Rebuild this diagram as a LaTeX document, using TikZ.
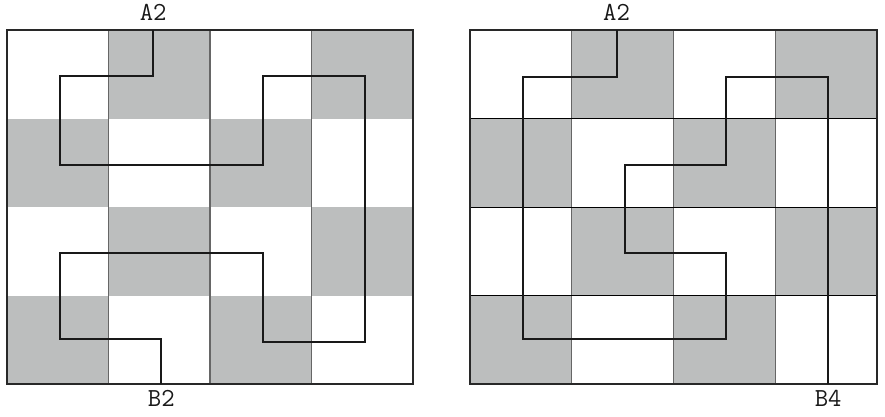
\documentclass[tikz,border=0pt]{standalone}
\usepackage{fontspec}
\usetikzlibrary{positioning}
\definecolor{cellgray}{RGB}{188,190,190}
\definecolor{framegray}{RGB}{40,40,40}

\begin{document}
\begin{tikzpicture}[x=1pt,y=-1pt,
    every node/.style={font=\ttfamily\fontsize{26}{26}\selectfont,text=black!90,inner sep=0pt},
    frame/.style={draw=framegray,line width=2pt},
    sepline/.style={draw=black!60,line width=1.2pt},
    route/.style={draw=black!90,line width=2pt}]
  \useasboundingbox (0,0) rectangle (885,416);
  % left board
  \begin{scope}[shift={(7,30)},x=101.5pt,y=-88.5pt]
    \foreach \c/\r in {1/0,3/0,0/1,2/1,1/2,3/2,0/3,2/3}
      \fill[cellgray] (\c,\r) rectangle ++(1,1);
    \foreach \c in {1,2,3}
      \draw[sepline] (\c,0) -- (\c,4);
    \draw[frame] (0,0) rectangle (4,4);
    \coordinate (inL) at (1.44,0);
    \coordinate (outL) at (1.52,4);
    \draw[route] (inL) |- (0.52,0.52) |- (2.52,1.53) |- (3.53,0.52)
      |- (2.52,3.53) |- (0.52,2.52) |- (1.52,3.49) -- (outL);
  \end{scope}
  \node[anchor=base] (labLA) at ([yshift=10pt]inL) {A2};
  \node[anchor=base] (labLB) at ([yshift=-22pt]outL) {B2};
  % right board
  \begin{scope}[shift={(470,30)},x=101.75pt,y=-88.5pt]
    \foreach \c/\r in {1/0,3/0,0/1,2/1,1/2,3/2,0/3,2/3}
      \fill[cellgray] (\c,\r) rectangle ++(1,1);
    \foreach \c in {1,2,3}
      \draw[sepline] (\c,0) -- (\c,4);
    \foreach \r in {1,2,3}
      \draw[black,line width=1pt] (0,\r) -- (4,\r);
    \draw[frame] (0,0) rectangle (4,4);
    \coordinate (inR) at (1.44,0);
    \coordinate (outR) at (3.52,4);
    \draw[route] (inR) |- (0.52,0.53) |- (2.52,3.49) |- (1.52,2.52)
      |- (2.52,1.53) |- (3.52,0.53) -- (outR);
  \end{scope}
  \node[anchor=base] (labRA) at ([yshift=10pt]inR) {A2};
  \node[anchor=base] (labRB) at ([yshift=-22pt]outR) {B4};
\end{tikzpicture}
\end{document}
